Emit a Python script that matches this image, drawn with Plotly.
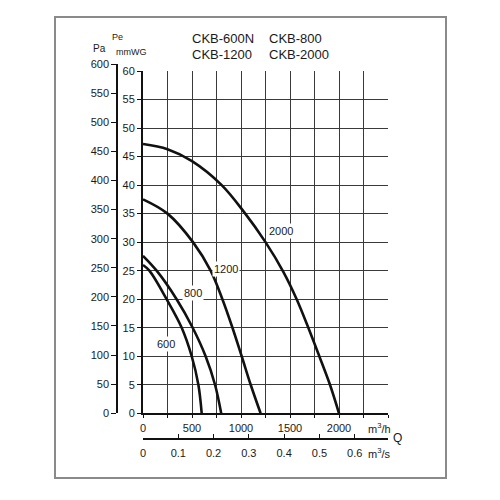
import plotly.graph_objects as go

# flow in m3/h, pressure in mmWG
q_600 = [0, 65, 241, 395, 497, 565, 599]
p_600 = [26.0, 25.0, 20.0, 15.0, 10.0, 5.0, 0.0]

q_800 = [0, 139, 343, 507, 639, 735, 798]
p_800 = [27.6, 25.0, 20.0, 15.0, 10.0, 5.0, 0.0]

q_1200 = [0, 250, 510, 690, 810, 913, 1007, 1099, 1200]
p_1200 = [37.5, 35.0, 30.0, 25.0, 20.0, 15.0, 10.0, 5.0, 0.0]

q_2000 = [0, 250, 500, 803, 1030, 1250, 1432, 1568, 1687, 1799, 1908, 2000]
p_2000 = [47.2, 46.3, 44.2, 40.0, 35.3, 30.0, 24.8, 20.0, 15.0, 10.0, 5.0, 0.0]

curves = [("600", q_600, p_600), ("800", q_800, p_800),
          ("1200", q_1200, p_1200), ("2000", q_2000, p_2000)]

# curve label positions (m3/h, mmWG)
label_names = ["600", "800", "1200", "2000"]
label_q = [235, 513, 847, 1408]
label_p = [12.1, 21.0, 25.3, 32.0]

models = ["CKB-600N", "CKB-800", "CKB-1200", "CKB-2000"]

q_ticks = [0, 250, 500, 750, 1000, 1250, 1500, 1750, 2000, 2250, 2500]
q_text = ["0", " ", "500", " ", "1000", " ", "1500", " ", "2000", " ", " "]
qs_ticks = [0, 0.1, 0.2, 0.3, 0.4, 0.5, 0.6]

# pixel layout (screenshot coords); the page body adds an 8px offset
OFF = 8
PX_L, PX_R, PX_T, PX_B = 117, 388, 64, 439
W = H = 492


def px_x(px):
    return (px - PX_L) / (PX_R - PX_L)


def px_y(py):
    return (PX_B - py) / (PX_B - PX_T)


FONT = "Liberation Sans Narrow, Arial Narrow, Liberation Sans, Arial, sans-serif"
INK = "#1a1a1a"

fig = go.Figure()

for name, q, p in curves:
    fig.add_trace(go.Scatter(
        x=q, y=p, mode="lines", name=name,
        line=dict(color="#111", width=2.6, shape="spline", smoothing=1.0),
        showlegend=False, hoverinfo="skip"))

# invisible trace so the Pa and m3/s axes get drawn
fig.add_trace(go.Scatter(x=[0], y=[0], xaxis="x2", yaxis="y2", mode="markers",
                         marker=dict(opacity=0), showlegend=False, hoverinfo="skip"))

x_dom = [px_x(143), 1]
y_dom = [px_y(413.3), px_y(71)]

fig.update_layout(
    width=W, height=H,
    margin=dict(l=PX_L - OFF, r=W - (PX_R - OFF), t=PX_T - OFF, b=H - (PX_B - OFF)),
    paper_bgcolor="white", plot_bgcolor="rgba(0,0,0,0)",
    font=dict(family=FONT, size=11, color=INK),
    xaxis=dict(domain=x_dom, range=[0, 2500], tickvals=q_ticks, ticktext=q_text,
               showgrid=True, gridcolor="#3a3a3a", gridwidth=1,
               showline=True, linecolor="#111", linewidth=2,
               ticks="outside", ticklen=3, tickcolor="#111",
               zeroline=False, anchor="y", fixedrange=True),
    yaxis=dict(domain=y_dom, range=[0, 60], dtick=5,
               showgrid=True, gridcolor="#3a3a3a", gridwidth=1,
               showline=True, linecolor="#111", linewidth=2,
               ticks="outside", ticklen=4, tickcolor="#111",
               zeroline=False, anchor="x", fixedrange=True),
    xaxis2=dict(domain=x_dom, range=[0, 2500 / 3600], tickvals=qs_ticks,
                anchor="free", position=0, side="bottom",
                showgrid=False, zeroline=False,
                showline=True, linecolor="#111", linewidth=1.5,
                ticks="inside", ticklen=4, tickcolor="#111",
                ticklabelstandoff=4, fixedrange=True),
    yaxis2=dict(domain=[px_y(413.3), 1], range=[0, 600], dtick=50,
                anchor="free", position=0, side="left",
                showgrid=False, zeroline=False,
                showline=True, linecolor="#111", linewidth=1.5,
                ticks="outside", ticklen=5, tickcolor="#111",
                fixedrange=True),
)

# outer frame
fig.add_shape(type="rect", xref="paper", yref="paper",
              x0=px_x(55), x1=px_x(446), y0=px_y(478), y1=px_y(17),
              line=dict(color="#8a8a8a", width=2), layer="below")

# curve labels
for name, q, p in zip(label_names, label_q, label_p):
    fig.add_annotation(x=q, y=p, xref="x", yref="y", text=name, showarrow=False,
                       bgcolor="white", font=dict(size=11), borderpad=1)

# model names
for i, m in enumerate(models):
    fig.add_annotation(x=px_x(190 if i % 2 == 0 else 267), y=px_y(38 if i < 2 else 54),
                       xref="paper", yref="paper", text=m, showarrow=False,
                       xanchor="left", yanchor="middle",
                       font=dict(family="Liberation Sans, Arial, sans-serif", size=13, color=INK))

# axis captions
captions = [("Pa", 99, 49, 10), ("Pe", 117, 37, 9), ("mmWG", 131, 52, 9),
            ("m<sup>3</sup>/h", 379, 428, 11), ("m<sup>3</sup>/s", 379, 453, 11),
            ("Q", 397, 438, 12)]
for text, x, y, size in captions:
    fig.add_annotation(x=px_x(x), y=px_y(y), xref="paper", yref="paper", text=text,
                       showarrow=False, xanchor="center", yanchor="middle",
                       font=dict(size=size))

fig.write_html("out.html")
